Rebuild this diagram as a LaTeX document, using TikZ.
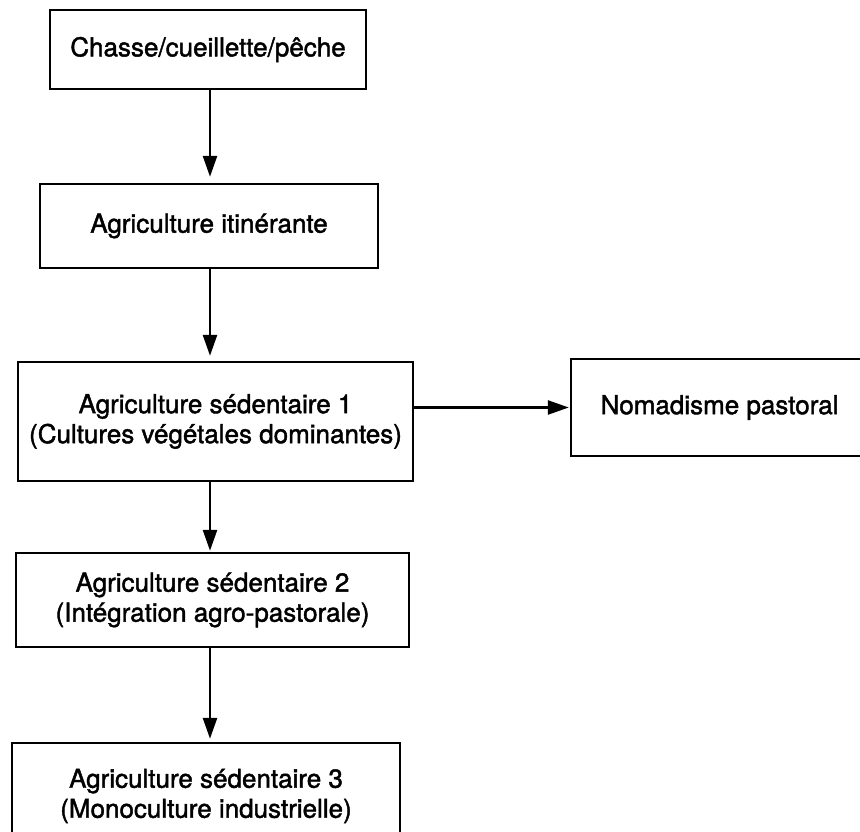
\documentclass[tikz,border=0pt]{standalone}
\usepackage{fontspec}
\setmainfont{TeX Gyre Heros}
\newfontface\heavyface{TeX Gyre Heros}[FakeBold=1.6]
\usetikzlibrary{arrows.meta}
\begin{document}
\begin{tikzpicture}[x=1pt,y=-1pt,
  stage/.style={draw, line width=2.4pt, align=center, inner sep=0pt,
    font=\heavyface\fontsize{26}{30}\selectfont},
  flow/.style={line width=2.6pt, -{Triangle[length=21pt,width=14pt]}}]
\path[use as bounding box] (0,0) rectangle (860,832);
\clip (0,0) rectangle (860,832);
\fill[white] (0,0) rectangle (860,832);
\node[stage, minimum width=316pt, minimum height=79pt] (b1) at (208,49.5) {Chasse/cueillette/pêche};
\node[stage, minimum width=338pt, minimum height=84pt] (b2) at (209,226) {Agriculture itinérante};
\node[stage, minimum width=395pt, minimum height=119pt] (b3) at (215.5,421.5) {Agriculture sédentaire 1\\(Cultures végétales dominantes)};
\node[stage, minimum width=297pt, minimum height=97pt] (b4) at (719.5,407.5) {Nomadisme pastoral};
\node[stage, minimum width=393pt, minimum height=94pt] (b5) at (212.5,600) {Agriculture sédentaire 2\\(Intégration agro-pastorale)};
\node[stage, minimum width=388pt, minimum height=106pt] (b6) at (206,796) {Agriculture sédentaire 3\\(Monoculture industrielle)};
\coordinate (t1) at (210,0);
\draw[flow, shorten >=6pt] (b1.south -| t1) -- (b2.north -| t1);
\draw[flow, shorten >=5pt] (b2.south -| t1) -- (b3.north -| t1);
\draw[flow, shorten >=1pt] (b3.east |- b4.west) -- (b4.west);
\draw[flow, shorten >=1pt] (b3.south -| t1) -- (b5.north -| t1);
\draw[flow, shorten >=3pt] (b5.south -| t1) -- (b6.north -| t1);
\end{tikzpicture}
\end{document}
